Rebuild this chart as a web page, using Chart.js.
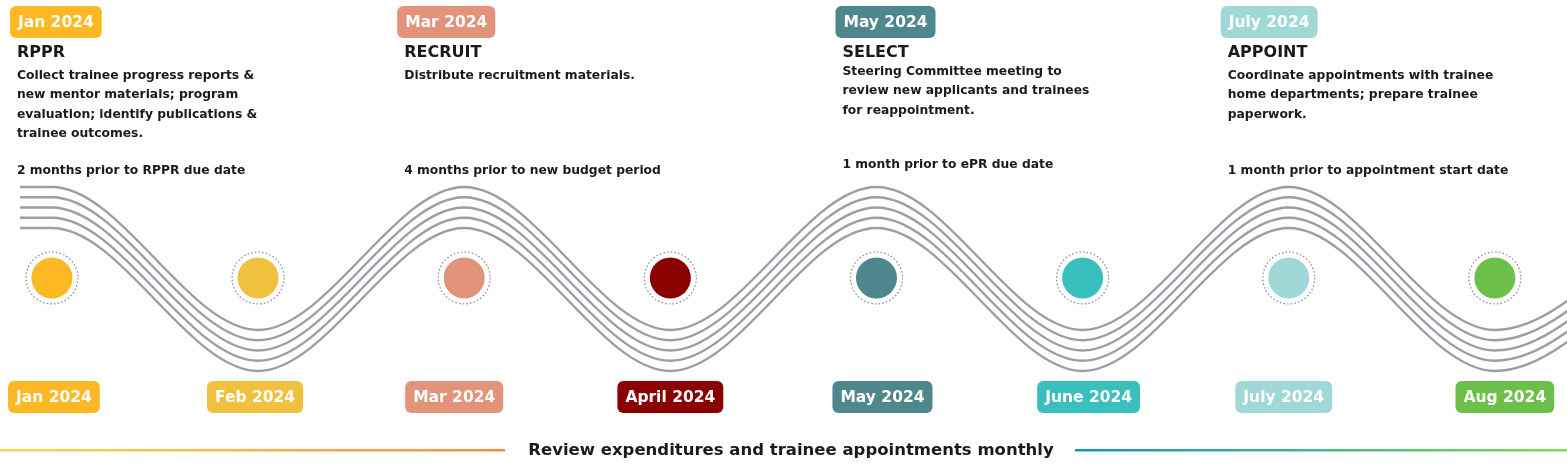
<!DOCTYPE html>
<html><head><meta charset="utf-8">
<script src="https://cdn.jsdelivr.net/npm/chart.js@4.4.1/dist/chart.umd.min.js"></script>
<style>html,body{margin:0;padding:0;background:#fff}canvas{display:block}</style>
</head><body>
<canvas id="c" width="1567" height="469"></canvas>
<script>
// ---- data ----
const months = ["Jan 2024","Feb 2024","Mar 2024","April 2024","May 2024","June 2024","July 2024","Aug 2024"];
const monthColors = ["#fdb823","#f0c13f","#e2937a","#8b0000","#4e878c","#3abfbf","#9fd8d6","#6cc04a"];
const waveX = [0.845,1,2,3,4,5,6,7,8,9];
const waveY = [1,1,0,1,0,1,0,1,0,1];
const stageMonths = [1,3,5,7];
const stageLabels = ["Jan 2024","Mar 2024","May 2024","July 2024"];
const stageTitles = ["RPPR","RECRUIT","SELECT","APPOINT"];
const stageDesc = [
 ["Collect trainee progress reports &","new mentor materials; program","evaluation; identify publications &","trainee outcomes."],
 ["Distribute recruitment materials."],
 ["Steering Committee meeting to","review new applicants and trainees","for reappointment."],
 ["Coordinate appointments with trainee","home departments; prepare trainee","paperwork."]
];
const stageTiming = ["2 months prior to RPPR due date","4 months prior to new budget period","1 month prior to ePR due date","1 month prior to appointment start date"];
const footerText = "Review expenditures and trainee appointments monthly";
const circleLevel = 0.364;
const lineOffsets = [0,-0.0717,-0.1434,-0.215,-0.2867];

const FONT = '"DejaVu Sans", sans-serif';
function rr(ctx,x,y,w,h,r){ctx.beginPath();ctx.moveTo(x+r,y);ctx.arcTo(x+w,y,x+w,y+h,r);ctx.arcTo(x+w,y+h,x,y+h,r);ctx.arcTo(x,y+h,x,y,r);ctx.arcTo(x,y,x+w,y,r);ctx.closePath();}
function pill(ctx,text,cx,cy,color,left){
  ctx.font='bold 15.5px '+FONT;
  const w=ctx.measureText(text).width+16, h=32;
  const x = left!==undefined?left:cx-w/2;
  ctx.fillStyle=color; rr(ctx,x,cy-h/2,w,h,6); ctx.fill();
  ctx.fillStyle='#fff'; ctx.textBaseline='middle'; ctx.textAlign='left';
  ctx.fillText(text,x+8,cy+1);
}
const deco = {
  id:'deco',
  beforeDatasetsDraw(chart){
    const ctx=chart.ctx, xs=chart.scales.x, ys=chart.scales.y;
    ctx.save();
    ctx.strokeStyle='#8a8f96'; ctx.lineWidth=1.3; ctx.setLineDash([1.5,2.2]);
    months.forEach((m,i)=>{ctx.beginPath();ctx.arc(xs.getPixelForValue(i+1),ys.getPixelForValue(circleLevel),26,0,Math.PI*2);ctx.stroke();});
    ctx.restore();
  },
  afterDatasetsDraw(chart){
    const ctx=chart.ctx, xs=chart.scales.x;
    ctx.save();
    months.forEach((m,i)=>pill(ctx,m,xs.getPixelForValue(i+1)+[2,-3,-10,0,6,6,-5,10][i],397,monthColors[i]));
    const offs=[-35,-60,-34,-61];
    stageMonths.forEach((mo,k)=>{
      const tx=xs.getPixelForValue(mo)+offs[k];
      pill(ctx,stageLabels[k],0,22,monthColors[mo-1],tx-7);
      ctx.fillStyle='#1a1a1a'; ctx.textAlign='left'; ctx.textBaseline='middle';
      ctx.font='bold 16px '+FONT; ctx.fillText(stageTitles[k],tx,53);
      ctx.font='bold 12.3px '+FONT;
      const d0 = k===2?72:76;
      stageDesc[k].forEach((l,j)=>ctx.fillText(l,tx,d0+j*19.3));
      ctx.fillText(stageTiming[k],tx,k===2?165:171);
    });
    let g=ctx.createLinearGradient(0,0,505,0); g.addColorStop(0,'#ffd84f'); g.addColorStop(1,'#ff8a3d');
    ctx.fillStyle=g; ctx.fillRect(0,449,505,2.5);
    g=ctx.createLinearGradient(1075,0,1567,0); g.addColorStop(0,'#1497b5'); g.addColorStop(1,'#7edb55');
    ctx.fillStyle=g; ctx.fillRect(1075,449,492,2.5);
    ctx.fillStyle='#1a1a1a'; ctx.font='bold 16.5px '+FONT; ctx.textAlign='center';
    ctx.fillText(footerText,791,451);
    ctx.restore();
  }
};
const waveSets = lineOffsets.map(o=>({type:'line',data:waveX.map((x,i)=>({x,y:waveY[i]+o})),borderColor:'#9a9fa6',borderWidth:2.4,pointRadius:0,cubicInterpolationMode:'monotone',fill:false}));
new Chart(document.getElementById('c'),{
  data:{datasets:[...waveSets,{type:'scatter',data:months.map((m,i)=>({x:i+1,y:circleLevel})),pointRadius:20.5,pointHoverRadius:20.5,pointBackgroundColor:monthColors,pointBorderWidth:0,clip:false}]},
  options:{responsive:false,animation:false,events:[],layout:{padding:0,autoPadding:false},
    plugins:{legend:{display:false},tooltip:{enabled:false}},
    scales:{x:{type:'linear',min:0.748,max:8.35,display:false},y:{min:-0.972,max:2.308,display:false}}},
  plugins:[deco]
});
</script>
</body></html>
